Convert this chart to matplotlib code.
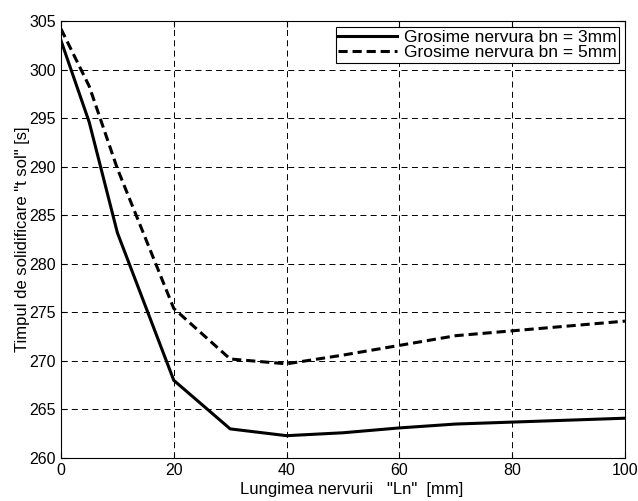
import matplotlib
matplotlib.use('Agg')
import matplotlib.pyplot as plt

plt.rcParams['font.family'] = ['Liberation Sans', 'DejaVu Sans']

# data
ln = [0, 5, 10, 20, 30, 40, 50, 60, 70, 80, 90, 100]
t_3mm = [303.0, 294.6, 283.2, 268.0, 263.0, 262.3, 262.6, 263.1, 263.5, 263.7, 263.9, 264.1]
t_5mm = [304.2, 298.3, 289.8, 275.4, 270.2, 269.7, 270.6, 271.6, 272.6, 273.1, 273.6, 274.1]

fig = plt.figure(figsize=(6.38, 5.01), dpi=100)
ax = fig.add_axes([0.0956, 0.0858, 0.884, 0.872])

ax.plot(ln, t_3mm, 'k-', lw=2.2, label='Grosime nervura bn = 3mm')
ax.plot(ln, t_5mm, 'k--', lw=2.2, dashes=(3, 1.6), label='Grosime nervura bn = 5mm')

ax.set_xlim(0, 100)
ax.set_ylim(260, 305)
ax.set_xticks(range(0, 101, 20))
ax.set_yticks(range(260, 306, 5))
ax.grid(True, color='k', linestyle=(0, (6.2, 4.4)), linewidth=0.7)
ax.tick_params(direction='in', labelsize=11.5, length=4, top=True, right=True)
for s in ax.spines.values():
    s.set_linewidth(0.8)

ax.set_xlabel('Lungimea nervurii   "Ln"  [mm]', fontsize=12, labelpad=0)
ax.set_ylabel('Timpul de solidificare "t sol" [s]', fontsize=12)
ax.yaxis.set_label_coords(-0.055, 0.5)
ax.xaxis.set_label_coords(0.515, -0.055)

leg = ax.legend(loc='upper right', fontsize=12.5, fancybox=False, framealpha=1,
                edgecolor='k', handlelength=3.4, handletextpad=0.35,
                borderaxespad=0.35, borderpad=0.15, labelspacing=0.0)
leg.get_frame().set_linewidth(0.8)

fig.savefig('out.png', dpi=100)
